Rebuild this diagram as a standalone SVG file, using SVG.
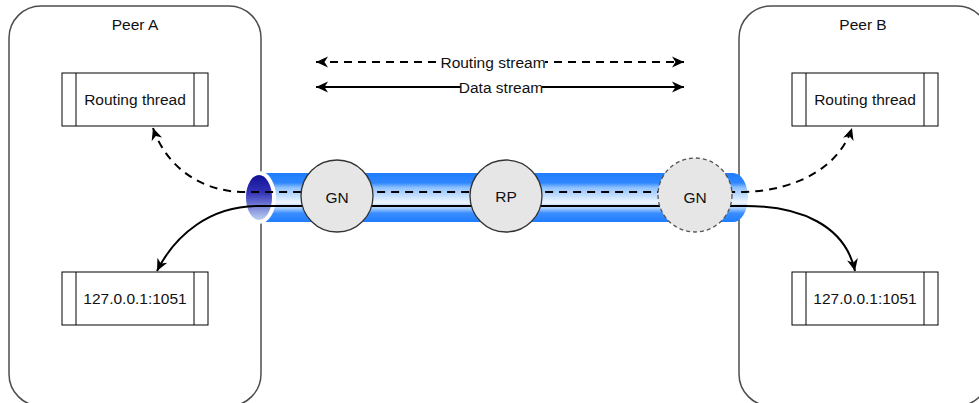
<svg xmlns="http://www.w3.org/2000/svg" width="979" height="403" viewBox="0 0 979 403">
  <defs>
    <style>
      text { font-family: "Liberation Sans", Arial, sans-serif; font-size: 15.5px; fill: #111111; }
      .peer { fill: #ffffff; stroke: #4d4d4d; stroke-width: 1.5; }
      .proc { fill: #ffffff; stroke: #000000; stroke-width: 1; }
      .node { fill: #e6e6e6; stroke: #333333; stroke-width: 1.3; }
      .node-dashed { fill: #e6e6e6; stroke: #555555; stroke-width: 1.3; stroke-dasharray: 4 3; }
      .route { fill: none; stroke: #000000; stroke-width: 2; stroke-dasharray: 8 6; }
      .data { fill: none; stroke: #000000; stroke-width: 2; }
    </style>
    <linearGradient id="tubeShade" x1="0" y1="0" x2="0" y2="1">
      <stop offset="0" stop-color="#1f7dff"/>
      <stop offset="0.2" stop-color="#2f87ff"/>
      <stop offset="0.3" stop-color="#8ec1ff"/>
      <stop offset="0.6" stop-color="#eef6ff"/>
      <stop offset="0.72" stop-color="#a6ceff"/>
      <stop offset="0.82" stop-color="#3a8dff"/>
      <stop offset="1" stop-color="#1f7dff"/>
    </linearGradient>
    <linearGradient id="capShade" x1="0" y1="0" x2="0" y2="1">
      <stop offset="0" stop-color="#0d0d90"/>
      <stop offset="0.4" stop-color="#3333b8"/>
      <stop offset="1" stop-color="#c6dcf8"/>
    </linearGradient>
    <marker id="arrow" viewBox="-13 -6 14 12" refX="0" refY="0" markerWidth="14" markerHeight="12" markerUnits="userSpaceOnUse" orient="auto-start-reverse">
      <path d="M0,0 L-12,-5.5 L-8.5,0 L-12,5.5 Z" fill="#000000"/>
    </marker>
  </defs>

  <!-- peers -->
  <g id="peer-a">
    <rect class="peer" x="9" y="6" width="252" height="400" rx="32" ry="32"/>
    <text x="135" y="30" text-anchor="middle">Peer A</text>
  </g>
  <g id="peer-b">
    <rect class="peer" x="739" y="6" width="250" height="400" rx="32" ry="32"/>
    <text x="863" y="30" text-anchor="middle">Peer B</text>
  </g>

  <!-- processes inside the peers -->
  <g id="routing-thread-a">
    <rect class="proc" x="62" y="73" width="146" height="53"/>
    <line class="proc" x1="76" y1="73" x2="76" y2="126"/>
    <line class="proc" x1="194" y1="73" x2="194" y2="126"/>
    <text x="135" y="105" text-anchor="middle">Routing thread</text>
  </g>
  <g id="socket-a">
    <rect class="proc" x="62" y="272" width="146" height="53"/>
    <line class="proc" x1="76" y1="272" x2="76" y2="325"/>
    <line class="proc" x1="194" y1="272" x2="194" y2="325"/>
    <text x="135" y="304" text-anchor="middle">127.0.0.1:1051</text>
  </g>
  <g id="routing-thread-b">
    <rect class="proc" x="792" y="73" width="146" height="53"/>
    <line class="proc" x1="806" y1="73" x2="806" y2="126"/>
    <line class="proc" x1="924" y1="73" x2="924" y2="126"/>
    <text x="865" y="105" text-anchor="middle">Routing thread</text>
  </g>
  <g id="socket-b">
    <rect class="proc" x="792" y="272" width="146" height="53"/>
    <line class="proc" x1="806" y1="272" x2="806" y2="325"/>
    <line class="proc" x1="924" y1="272" x2="924" y2="325"/>
    <text x="865" y="304" text-anchor="middle">127.0.0.1:1051</text>
  </g>

  <!-- tunnel between the peers -->
  <g id="tunnel">
    <path d="M259,173 L733,173 A15,24.5 0 0 1 733,222 L259,222 Z" fill="url(#tubeShade)"/>
    <ellipse cx="259" cy="197.5" rx="15" ry="24.5" fill="url(#capShade)" stroke="#ffffff" stroke-width="4"/>
  </g>

  <!-- streams -->
  <g id="connectors">
    <path class="route" d="M153,128 C166,166 200,192 245,192 L745,192 C800,190 840,165 852,128" marker-start="url(#arrow)" marker-end="url(#arrow)"/>
    <path class="data" d="M157,271 C175,235 210,206 258,206 L745,206 C800,206 845,225 855,271" marker-start="url(#arrow)" marker-end="url(#arrow)"/>

    <path class="route" d="M316,62 L684,62" marker-start="url(#arrow)" marker-end="url(#arrow)"/>
    <rect x="443" y="53" width="102" height="18" fill="#ffffff"/>
    <text x="493" y="67.5" text-anchor="middle">Routing stream</text>

    <path class="data" d="M316,87 L684,87" marker-start="url(#arrow)" marker-end="url(#arrow)"/>
    <rect x="461" y="78" width="81" height="18" fill="#ffffff"/>
    <text x="501" y="92.5" text-anchor="middle">Data stream</text>
  </g>

  <!-- nodes on the tunnel -->
  <g id="gn-a">
    <circle class="node" cx="337" cy="196" r="36"/>
    <text x="337" y="203" text-anchor="middle">GN</text>
  </g>
  <g id="rp">
    <circle class="node" cx="506" cy="196" r="36"/>
    <text x="506" y="202" text-anchor="middle">RP</text>
  </g>
  <g id="gn-b">
    <circle class="node-dashed" cx="695" cy="195" r="37"/>
    <text x="695" y="203" text-anchor="middle">GN</text>
  </g>
</svg>
